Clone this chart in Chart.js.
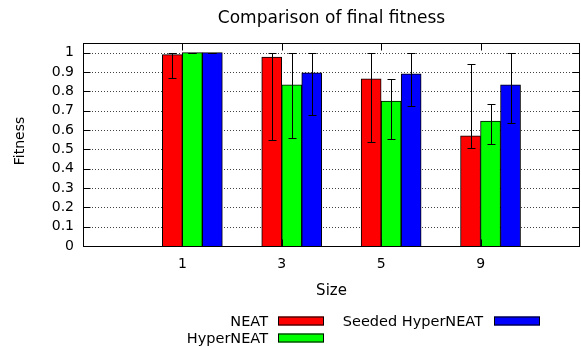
<!DOCTYPE html>
<html>
<head>
<meta charset="utf-8">
<script src="https://cdn.jsdelivr.net/npm/chart.js@4/dist/chart.umd.min.js"></script>
<style>
  html, body { margin: 0; padding: 0; background: #ffffff; }
  canvas { display: block; }
</style>
</head>
<body>
<canvas id="chart" width="581" height="347"></canvas>
<script>
// Problem sizes on the x axis
const sizes = ['1', '3', '5', '9'];

// Mean final fitness per method
const neatMean   = [0.990, 0.977, 0.865, 0.570];
const hyperMean  = [1.000, 0.834, 0.750, 0.646];
const seededMean = [1.000, 0.896, 0.890, 0.833];

// Error bar ranges (low / high) per method
const neatLow    = [0.870, 0.548, 0.537, 0.508];
const neatHigh   = [1.000, 1.000, 1.000, 0.943];
const hyperLow   = [1.000, 0.560, 0.553, 0.527];
const hyperHigh  = [1.000, 1.000, 0.865, 0.732];
const seededLow  = [1.000, 0.680, 0.725, 0.634];
const seededHigh = [1.000, 1.000, 1.000, 1.000];

// Fitness axis ticks
const yTicks = [0, 0.1, 0.2, 0.3, 0.4, 0.5, 0.6, 0.7, 0.8, 0.9, 1];

const FONT = '"DejaVu Sans", sans-serif';
const CLUSTER_SHIFT = 0.1; // clusters sit slightly right of their tic

function toPoints(values) {
  return values.map((v, i) => ({ x: i + CLUSTER_SHIFT, y: v }));
}

// Dotted grid, frame and inward tics (gnuplot look)
const framePlugin = {
  id: 'frame',
  beforeDatasetsDraw(chart) {
    const { ctx, chartArea: a, scales: { y } } = chart;
    ctx.save();
    ctx.strokeStyle = 'rgba(0,0,0,0.75)';
    ctx.lineWidth = 1;
    ctx.setLineDash([1, 2]);
    yTicks.forEach(v => {
      if (v === 0) return;
      const py = Math.round(y.getPixelForValue(v)) + 0.5;
      ctx.beginPath();
      ctx.moveTo(a.left, py);
      ctx.lineTo(a.right, py);
      ctx.stroke();
    });
    ctx.restore();
  },
  afterDatasetsDraw(chart) {
    const { ctx, chartArea: a, scales: { x, y } } = chart;
    ctx.save();
    ctx.strokeStyle = '#000';
    ctx.lineWidth = 1;
    ctx.setLineDash([]);
    const L = Math.round(a.left) + 0.5, R = Math.round(a.right) - 0.5;
    const T = Math.round(a.top) + 0.5, B = Math.round(a.bottom) + 0.5;
    ctx.strokeRect(L, T, R - L, B - T);
    const tic = 7;
    ctx.beginPath();
    yTicks.forEach(v => {
      const py = Math.round(y.getPixelForValue(v)) + 0.5;
      ctx.moveTo(L, py); ctx.lineTo(L + tic, py);
      ctx.moveTo(R, py); ctx.lineTo(R - tic, py);
    });
    sizes.forEach((s, i) => {
      const px = Math.round(x.getPixelForValue(i)) + 0.5;
      ctx.moveTo(px, T); ctx.lineTo(px, T + tic);
      ctx.moveTo(px, B); ctx.lineTo(px, B - tic);
    });
    ctx.stroke();
    ctx.restore();
  }
};

// Error bars from each dataset's low/high arrays
const errorBarPlugin = {
  id: 'errorBars',
  afterDatasetsDraw(chart) {
    const { ctx, scales: { y } } = chart;
    ctx.save();
    ctx.strokeStyle = '#000';
    ctx.lineWidth = 1;
    chart.data.datasets.forEach((ds, d) => {
      const meta = chart.getDatasetMeta(d);
      meta.data.forEach((bar, i) => {
        const px = Math.round(bar.x) + 0.5;
        const lo = Math.round(y.getPixelForValue(ds.errLow[i])) + 0.5;
        const hi = Math.round(y.getPixelForValue(ds.errHigh[i])) + 0.5;
        ctx.beginPath();
        ctx.moveTo(px, lo); ctx.lineTo(px, hi);
        ctx.moveTo(px - 4, lo); ctx.lineTo(px + 4, lo);
        ctx.moveTo(px - 4, hi); ctx.lineTo(px + 4, hi);
        ctx.stroke();
      });
    });
    ctx.restore();
  }
};

// Title, axis titles and the key below the plot
const labelsPlugin = {
  id: 'labels',
  afterDraw(chart) {
    const { ctx, chartArea: a } = chart;
    ctx.save();
    ctx.fillStyle = '#000';
    const cx = (a.left + a.right) / 2;

    ctx.font = '17px ' + FONT;
    ctx.textAlign = 'center';
    ctx.textBaseline = 'alphabetic';
    ctx.fillText('Comparison of final fitness', cx, 23);

    ctx.font = '15px ' + FONT;
    ctx.fillText('Size', cx, 295);

    ctx.save();
    ctx.translate(24, 141);
    ctx.rotate(-Math.PI / 2);
    ctx.font = '14px ' + FONT;
    ctx.textBaseline = 'alphabetic';
    ctx.fillText('Fitness', 0, 0);
    ctx.restore();

    // key: two columns, entries fill column by column
    const slots = [
      { textRight: 268, box: 278, base: 326 },
      { textRight: 268, box: 278, base: 343 },
      { textRight: 483, box: 494, base: 326 }
    ];
    ctx.font = '14.5px ' + FONT;
    ctx.textAlign = 'right';
    chart.data.datasets.forEach((ds, d) => {
      const s = slots[d];
      ctx.fillStyle = '#000';
      ctx.fillText(ds.label, s.textRight, s.base);
      ctx.fillStyle = ds.backgroundColor;
      ctx.fillRect(s.box, s.base - 9.5, 46, 9);
      ctx.strokeStyle = '#000';
      ctx.lineWidth = 1;
      ctx.strokeRect(s.box + 0.5, s.base - 9.5 + 0.5, 45, 8);
    });
    ctx.restore();
  }
};

const barStyle = { borderColor: '#000000', borderWidth: 1, barThickness: 20, borderSkipped: 'start' };

new Chart(document.getElementById('chart'), {
  type: 'bar',
  data: {
    datasets: [
      { label: 'NEAT', data: toPoints(neatMean), backgroundColor: '#ff0000',
        errLow: neatLow, errHigh: neatHigh, ...barStyle },
      { label: 'HyperNEAT', data: toPoints(hyperMean), backgroundColor: '#00ff00',
        errLow: hyperLow, errHigh: hyperHigh, ...barStyle },
      { label: 'Seeded HyperNEAT', data: toPoints(seededMean), backgroundColor: '#0000ff',
        errLow: seededLow, errHigh: seededHigh, ...barStyle }
    ]
  },
  options: {
    responsive: false,
    animation: false,
    layout: { padding: { top: 43, right: 1, left: 0, bottom: 0 } },
    plugins: {
      legend: { display: false },
      title: { display: false },
      tooltip: { enabled: false }
    },
    scales: {
      x: {
        type: 'linear',
        min: -1,
        max: 4,
        offset: false,
        grid: { display: false, drawTicks: false },
        border: { display: false },
        ticks: {
          stepSize: 1,
          padding: 10,
          maxRotation: 0,
          autoSkip: false,
          color: '#000',
          font: { family: FONT, size: 14 },
          callback: v => (Number.isInteger(v) && sizes[v] !== undefined ? sizes[v] : '')
        },
        afterFit: s => { s.height = 101; s.paddingLeft = 0; s.paddingRight = 0; }
      },
      y: {
        type: 'linear',
        min: 0,
        max: 1.05,
        grid: { display: false, drawTicks: false },
        border: { display: false },
        ticks: {
          stepSize: 0.1,
          includeBounds: false,
          padding: 9,
          color: '#000',
          font: { family: FONT, size: 14 },
          callback: v => String(Math.round(v * 10) / 10)
        },
        afterFit: s => { s.width = 83; s.paddingTop = 0; s.paddingBottom = 0; }
      }
    }
  },
  plugins: [framePlugin, errorBarPlugin, labelsPlugin]
});
</script>
</body>
</html>
